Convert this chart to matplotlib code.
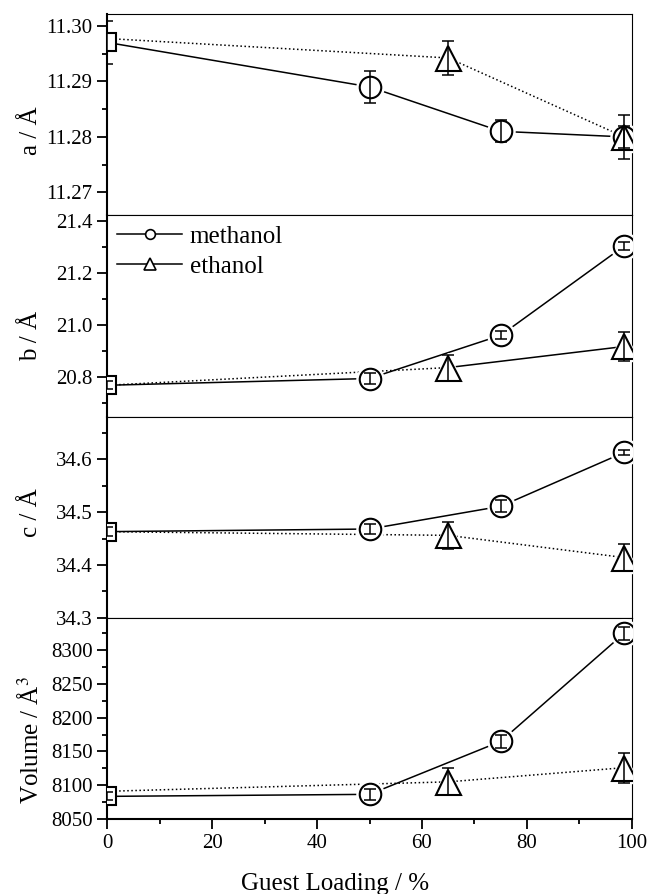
import matplotlib
matplotlib.use("Agg")
import matplotlib.pyplot as plt
from matplotlib.lines import Line2D
from matplotlib.ticker import MultipleLocator, FormatStrFormatter

plt.rcParams['font.family'] = ['Liberation Serif', 'DejaVu Serif']
plt.rcParams['mathtext.fontset'] = 'stix'

# guest loading (%) for each series
x_meth = [0, 50, 75, 98.5]
x_eth = [0, 65, 98.5]

# empty host (square) per panel: a, b, c, volume
host_val = [11.2970, 20.770, 34.463, 8083.5]
host_err = [0.0038, 0.015, 0.008, 6]

# methanol
a_meth = [11.2970, 11.2890, 11.2810, 11.2800]
a_meth_err = [0, 0.0029, 0.0020, 0.0020]
b_meth = [20.770, 20.796, 20.962, 21.305]
b_meth_err = [0, 0.02, 0.016, 0.016]
c_meth = [34.463, 34.468, 34.511, 34.613]
c_meth_err = [0, 0.010, 0.011, 0.005]
v_meth = [8083.5, 8086.5, 8165, 8325]
v_meth_err = [0, 8, 10, 10]

# ethanol
a_eth = [11.2977, 11.2942, 11.2800]
a_eth_err = [0, 0.0030, 0.0040]
b_eth = [20.770, 20.838, 20.919]
b_eth_err = [0, 0.05, 0.056]
c_eth = [34.463, 34.456, 34.414]
c_eth_err = [0, 0.025, 0.025]
v_eth = [8091, 8105, 8126]
v_eth_err = [0, 20, 22]

# line style of each ethanol segment per panel
eth_styles = [[':', ':'], [':', '-'], [':', ':'], [':', ':']]

meth = [(a_meth, a_meth_err), (b_meth, b_meth_err), (c_meth, c_meth_err), (v_meth, v_meth_err)]
eth = [(a_eth, a_eth_err), (b_eth, b_eth_err), (c_eth, c_eth_err), (v_eth, v_eth_err)]

ylabels = ['a / Å', 'b / Å', 'c / Å', 'Volume / Å$^{3}$']
ylims = [(11.2659, 11.3021), (20.65, 21.423), (34.3, 34.681), (8050, 8348)]
major = [0.01, 0.2, 0.1, 50]
fmts = ['%.2f', '%.1f', '%.1f', '%d']
label_y = [0.42, 0.40, 0.52, 0.395]


def draw_series(ax, x, y, err, marker, ms, styles):
    for i in range(len(x) - 1):
        ax.plot(x[i:i + 2], y[i:i + 2], ls=styles[i], color='k', lw=1.1, zorder=2)
    # white halo leaves a small gap between line and marker
    ax.plot(x[1:], y[1:], ls='none', marker=marker, ms=ms + 4, mfc='white', mec='white', zorder=3)
    ax.plot(x[1:], y[1:], ls='none', marker=marker, ms=ms, mfc='white', mec='k', mew=1.5, zorder=4)
    ax.errorbar(x[1:], y[1:], yerr=err[1:], fmt='none', ecolor='k', elinewidth=1.1,
                capsize=4, capthick=1.1, zorder=5)


fig, axes = plt.subplots(4, 1, sharex=True, figsize=(6.47, 8.94), dpi=100,
                         gridspec_kw=dict(hspace=0))
fig.subplots_adjust(left=0.1654, right=0.9768, bottom=0.0839, top=0.9843)

for i, ax in enumerate(axes):
    draw_series(ax, x_meth, meth[i][0], meth[i][1], 'o', 15.5, ['-', '-', '-'])
    draw_series(ax, x_eth, eth[i][0], eth[i][1], '^', 18, eth_styles[i])

    # empty host square at x = 0 (half hidden by the axis)
    ax.plot(0, host_val[i], ls='none', marker='s', ms=12.5, mfc='white', mec='k', mew=1.5, zorder=4)
    ax.errorbar([0], [host_val[i]], yerr=[host_err[i]], fmt='none', ecolor='k',
                elinewidth=1.1, capsize=4, capthick=1.1, zorder=5)

    ax.set_xlim(0, 100)
    ax.set_ylim(*ylims[i])
    ax.yaxis.set_major_locator(MultipleLocator(major[i]))
    ax.yaxis.set_minor_locator(MultipleLocator(major[i] / 2))
    ax.yaxis.set_major_formatter(FormatStrFormatter(fmts[i]))
    ax.xaxis.set_major_locator(MultipleLocator(20))
    ax.xaxis.set_minor_locator(MultipleLocator(10))

    last = i == 3
    ax.tick_params(which='both', direction='out', left=True, right=False, top=False,
                   bottom=last, labelbottom=last, width=1.3, labelsize=15, pad=3.5)
    ax.tick_params(which='major', length=7)
    ax.tick_params(which='minor', length=3.5)

    ax.spines['left'].set_linewidth(1.5)
    ax.spines['right'].set_linewidth(0.8)
    ax.spines['top'].set_linewidth(0.8)
    ax.spines['bottom'].set_linewidth(1.5 if last else 0.8)

    ax.set_ylabel(ylabels[i], fontsize=18)
    ax.yaxis.set_label_coords(-0.145, label_y[i])
    ax.yaxis.label.set_va('center')

handles = [Line2D([], [], color='k', lw=1.1, marker='o', ms=7, mfc='white', mec='k', mew=1.2),
           Line2D([], [], color='k', lw=1.1, marker='^', ms=8, mfc='white', mec='k', mew=1.2)]
axes[1].legend(handles, ['methanol', 'ethanol'], loc='upper left', frameon=False, fontsize=18,
               handlelength=2.6, handletextpad=0.3, labelspacing=0.3,
               borderaxespad=0.2, borderpad=0.2)

axes[3].set_xlabel('Guest Loading / %', fontsize=18)
axes[3].xaxis.set_label_coords(0.434, -0.27)

fig.savefig('out.png', dpi=100)
